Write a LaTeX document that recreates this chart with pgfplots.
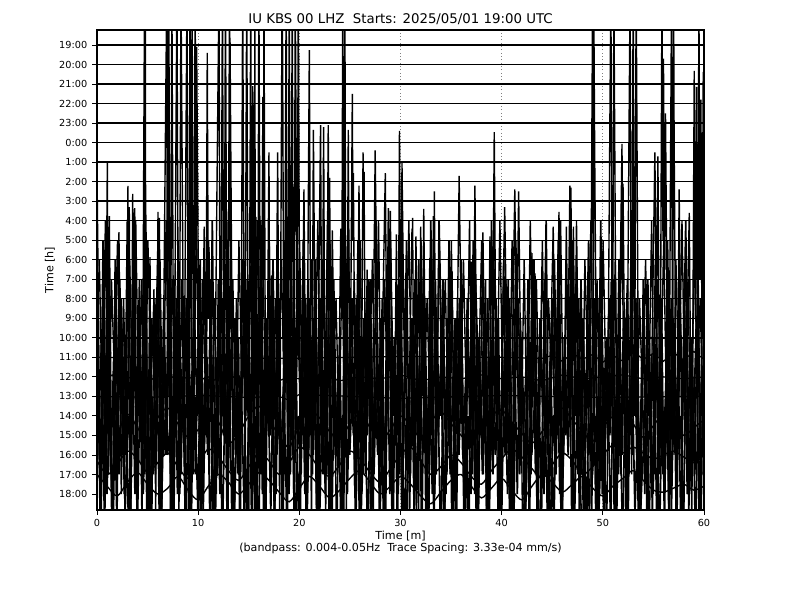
\documentclass[border=0pt]{standalone}
\usepackage{fontspec}
\setmainfont{DejaVu Sans}
\usepackage{pgfplots}
\pgfplotsset{compat=1.18}
\begin{document}
\begin{tikzpicture}
\useasboundingbox (0,0) rectangle (576pt,432pt);
\begin{axis}[
  at={(69.84pt,64.8pt)}, anchor=south west,
  width=437pt, height=345.6pt, scale only axis,
  xmin=0, xmax=60, ymin=-23.82, ymax=0.77,
  xtick={0,10,...,60},
  ytick={-23,-22,...,0},
  yticklabels={18:00,17:00,16:00,15:00,14:00,13:00,12:00,11:00,10:00,9:00,8:00,7:00,6:00,5:00,4:00,3:00,2:00,1:00,0:00,23:00,22:00,21:00,20:00,19:00},
  tick align=outside, tick pos=left,
  major tick length=3.5pt,
  tick style={black, line width=0.6pt},
  axis line style={line width=0.8pt},
  ticklabel style={font=\fontsize{7}{8}\selectfont},
  /pgf/number format/assume math mode=true,
  xmajorgrids, grid style={gray, dotted, line width=0.5pt},
]
% quiet traces 19:00 .. 10:00
\addplot[black, line width=1pt] coordinates {(0,0) (60,0)};
\addplot[black, line width=1pt] coordinates {(0,-1) (60,-1)};
\addplot[black, line width=1pt] coordinates {(0,-2) (60,-2)};
\addplot[black, line width=1pt] coordinates {(0,-3) (60,-3)};
\addplot[black, line width=1pt] coordinates {(0,-4) (60,-4)};
\addplot[black, line width=1pt] coordinates {(0,-5) (60,-5)};
\addplot[black, line width=1pt] coordinates {(0,-6) (60,-6)};
\addplot[black, line width=1pt] coordinates {(0,-7) (60,-7)};
\addplot[black, line width=1pt] coordinates {(0,-8) (60,-8)};
\addplot[black, line width=1pt] coordinates {(0,-9) (60,-9)};
\addplot[black, line width=1pt] coordinates {(0,-10) (60,-10)};
\addplot[black, line width=1pt] coordinates {(0,-11) (60,-11)};
\addplot[black, line width=1pt] coordinates {(0,-12) (60,-12)};
\addplot[black, line width=1pt] coordinates {(0,-13) (60,-13)};
\addplot[black, line width=1pt] coordinates {(0,-14) (60,-14)};
\addplot[black, line width=1pt] coordinates {(0,-15) (60,-15)};
% 11:00
\addplot[black, line width=0.9pt] coordinates {(0,-16) (20,-16.05) (30,-15.95) (40,-16) (44,-16.05) (45,-15.9) (46,-16.2) (47,-15.8) (48,-16.1) (49,-15.85) (50,-16.25) (51,-15.9) (52,-16.2) (53,-15.7) (54,-16.1) (55,-15.8) (56,-16.2) (57,-15.75) (58,-16.15) (59,-15.7) (60,-16.1)};
% 12:00
\addplot[black, line width=0.9pt] coordinates {(0,-17.0) (0.5,-16.8) (1,-17.1) (1.5,-16.9) (2,-17.2) (2.5,-16.9) (3,-17.0) (3.5,-17.1) (4,-17.2) (4.5,-17.0) (5,-17.3) (5.5,-17.1) (6,-17.0) (6.5,-16.9) (7,-17.1) (7.5,-17.0) (8,-17.2) (8.5,-17.0) (9,-17.1) (9.5,-17.0) (10,-16.9) (10.5,-17.1) (11,-17.0) (11.5,-17.2) (12,-17.0) (12.5,-16.9) (13,-17.1) (13.5,-17.0) (14,-17.2) (14.5,-16.9) (15,-17.0) (16,-17.1) (17,-16.9) (18,-17.2) (19,-17.0) (20,-17.1) (22,-16.9) (24,-17.2) (26,-17.0) (28,-17.1) (30,-16.9) (32,-17.2) (34,-17.0) (36,-17.1) (38,-16.9) (40,-17.1) (42,-17.0) (44,-17.2) (46,-16.9) (48,-17.1) (50,-17.0) (52,-16.9) (54,-17.1) (56,-17.0) (58,-17.1) (60,-17.0)};
% 13:00
\addplot[black, line width=0.9pt] coordinates {(0,-18) (5,-18.05) (10,-17.95) (15,-18.05) (18,-18) (19,-18.2) (20,-17.9) (30,-18.1) (40,-17.95) (50,-18.05) (60,-18)};
% big spikes
\addplot[black, line width=1pt] coordinates {
(0,-6.4) (0.35,-24) (0.55,-14) (0.8,-22) (1.02,-6.05) (1.12,-20) (1.22,-8.76) (1.5,-25) (1.85,-16) (2.0,-24) (2.17,-9.58) (2.4,-23) (2.7,-15) (2.85,-21) (3.06,-7.22) (3.12,-16) (3.19,-8.3) (3.35,-24) (3.53,-7.63) (3.62,-15) (3.73,-8.35) (3.95,-22) (4.2,-14) (4.45,-25) (4.7,3) (4.74,-20) (4.77,3) (4.82,-14) (4.84,-8.7) (5.0,-24) (5.24,-10.86) (5.4,-26) (5.63,-12.5) (5.8,-24) (6.03,-8.55) (6.1,-14) (6.16,-8.86) (6.4,-25) (6.9,3) (6.95,-18) (7.1,3) (7.25,-24) (7.4,3) (7.6,-22) (7.9,3) (8.1,-25) (8.3,3) (8.6,-20) (8.9,3) (9.05,-24) (9.2,3) (9.3,-16) (9.4,3) (9.55,-22) (9.7,3) (9.8,-12) (9.85,-0.1) (10.2,-25) (10.6,-9.3) (10.75,-20) (10.9,-0.4) (11.0,-14) (11.07,-10.35) (11.5,-26) (12.06,3) (12.2,-23) (12.4,3) (12.55,-20) (12.7,3) (12.9,-25) (13.1,3) (13.13,-10) (13.15,0.36) (13.5,-26) (14.0,-15) (14.2,-24) (14.4,3) (14.6,-22) (14.8,3) (15.0,-25) (15.2,3) (15.3,-18) (15.4,-2.1) (15.55,-24) (15.6,3) (15.65,-14) (15.7,-8.8) (15.85,-25) (16.0,3) (16.2,-22) (16.4,-2.66) (16.45,-12) (16.5,3) (16.7,-25) (17.0,-5.5) (17.1,-20) (17.27,-11.8) (17.55,-26) (17.86,-5.5) (18.05,-24) (18.3,3) (18.35,-0.4) (18.5,-22) (18.7,3) (18.85,-25) (19.0,3) (19.15,-20) (19.3,3) (19.45,-24) (19.6,3) (19.7,-7.0) (19.75,-15) (19.84,-6.56) (19.9,3) (20.1,-25) (20.46,-7.4) (20.7,-23) (20.99,-0.26) (21.2,-26) (21.39,-4.35) (21.7,-24) (22.1,-4.1) (22.25,-20) (22.4,-4.2) (22.6,-25) (22.86,-4.1) (22.93,-12) (23.0,-6.8) (23.1,-18) (23.26,-9.5) (23.7,-26) (24.1,-9.4) (24.2,-14) (24.3,3) (24.4,-22) (24.5,3) (24.65,-24) (24.84,-4.35) (25.0,-20) (25.24,-2.5) (25.3,-10) (25.34,-6.56) (25.6,-25) (25.9,-7.2) (26.1,-22) (26.3,-5.5) (26.35,-10) (26.4,-6.5) (26.55,-20) (26.7,-11.5) (27.1,-26) (27.5,-5.4) (27.9,-24) (28.5,-6.56) (28.65,-16) (28.8,-8.35) (28.9,-14) (29.0,-8.5) (29.3,-25) (29.6,-9.7) (29.75,-20) (29.9,-4.4) (30.05,-16) (30.15,-6.05) (30.6,-26) (31.14,-9.4) (31.17,-11) (31.2,-8.86) (31.35,-22) (31.53,-9.8) (31.8,-24) (32.0,-9.3) (32.15,-18) (32.3,-8.4) (32.6,-25) (32.9,-10.9) (33.1,-20) (33.25,-8.76) (33.3,-12) (33.35,-7.5) (33.55,-22) (33.8,-9.0) (34.3,-26) (34.7,-16) (34.9,-22) (35.1,-11.6) (35.4,-24) (35.8,-6.7) (36.3,-26) (36.7,-15) (36.85,-20) (37.0,-11.1) (37.2,-18) (37.36,-7.2) (37.7,-25) (38.15,-9.6) (38.5,-24) (38.85,-9.8) (39.05,-20) (39.27,-4.46) (39.45,-18) (39.7,-26) (40.3,-8.3) (40.8,-25) (41.3,-7.4) (41.5,-16) (41.68,-7.5) (42.1,-26) (42.5,-17) (42.7,-24) (43.0,-10.66) (43.15,-18) (43.3,-11.7) (43.7,-26) (44.2,-16) (44.5,-24) (45.1,-9.3) (45.35,-20) (45.67,-8.55) (46.0,-25) (46.4,-9.3) (46.55,-16) (46.75,-7.2) (46.8,-12) (46.85,-7.3) (47.0,-20) (47.1,-9.3) (47.25,-18) (47.4,-9.0) (47.8,-26) (48.3,-17) (48.7,-25) (49.0,3) (49.05,-18) (49.1,3) (49.2,-5.6) (49.5,-26) (50.0,-18) (50.4,-25) (50.8,3) (50.95,-20) (51.1,3) (51.13,-0.4) (51.4,-24) (51.9,-5.07) (51.95,-12) (52.0,-7.1) (52.3,-25) (52.7,3) (52.85,-22) (53.0,3) (53.15,-18) (53.3,3) (53.6,-26) (54.2,-18) (54.6,-25) (55.15,-5.5) (55.3,-14) (55.45,-5.7) (55.65,-22) (55.85,3) (55.95,-10) (56.0,-0.7) (56.1,-12) (56.2,-3.5) (56.5,-24) (56.8,3) (56.9,-20) (57.0,3) (57.05,-4.66) (57.3,-24) (57.55,-7.4) (57.9,-26) (58.55,-8.6) (58.8,-25) (59.04,-1.33) (59.15,-14) (59.27,-2.15) (59.4,-18) (59.5,3) (59.6,-12) (59.7,-2.8) (59.8,-15) (59.93,-1.38) (60,-10)};
% dense lower oscillation 1
\addplot[black, line width=1.2pt] coordinates {
(0,-12) (0.3,-24) (0.6,-10) (0.9,-21) (1.2,-14) (1.5,-26) (1.8,-11) (2.1,-19) (2.4,-13) (2.7,-23) (3.0,-9) (3.3,-25) (3.6,-15) (3.9,-20) (4.2,-12) (4.5,-22) (4.8,-10) (5.1,-26) (5.4,-14) (5.7,-18) (6.0,-11) (6.3,-24) (6.6,-13) (6.9,-21) (7.2,-9) (7.5,-25) (7.8,-16) (8.1,-20) (8.4,-12) (8.7,-23) (9.0,-10) (9.3,-26) (9.6,-13) (9.9,-19) (10.2,-11) (10.5,-24) (10.8,-15) (11.1,-22) (11.4,-9) (11.7,-25) (12.0,-12) (12.3,-20) (12.6,-14) (12.9,-26) (13.2,-10) (13.5,-21) (13.8,-13) (14.1,-24) (14.4,-11) (14.7,-19) (15.0,-15) (15.3,-25) (15.6,-12) (15.9,-22) (16.2,-9) (16.5,-26) (16.8,-14) (17.1,-20) (17.4,-11) (17.7,-23) (18.0,-13) (18.3,-25) (18.6,-10) (18.9,-21) (19.2,-15) (19.5,-24) (19.8,-12) (20.1,-19) (20.4,-10) (20.7,-26) (21.0,-13) (21.3,-22) (21.6,-11) (21.9,-25) (22.2,-14) (22.5,-20) (22.8,-9) (23.1,-24) (23.4,-12) (23.7,-21) (24.0,-15) (24.3,-26) (24.6,-11) (24.9,-19) (25.2,-13) (25.5,-23) (25.8,-10) (26.1,-25) (26.4,-14) (26.7,-20) (27.0,-12) (27.3,-24) (27.6,-9) (27.9,-22) (28.2,-13) (28.5,-26) (28.8,-11) (29.1,-19) (29.4,-15) (29.7,-25) (30.0,-12) (30.3,-21) (30.6,-10) (30.9,-24) (31.2,-14) (31.5,-20) (31.8,-11) (32.1,-26) (32.4,-13) (32.7,-22) (33.0,-9) (33.3,-25) (33.6,-15) (33.9,-19) (34.2,-12) (34.5,-23) (34.8,-10) (35.1,-26) (35.4,-14) (35.7,-21) (36.0,-11) (36.3,-24) (36.6,-13) (36.9,-20) (37.2,-10) (37.5,-25) (37.8,-15) (38.1,-22) (38.4,-12) (38.7,-26) (39.0,-9) (39.3,-19) (39.6,-14) (39.9,-24) (40.2,-11) (40.5,-21) (40.8,-13) (41.1,-25) (41.4,-10) (41.7,-20) (42.0,-15) (42.3,-26) (42.6,-12) (42.9,-22) (43.2,-11) (43.5,-24) (43.8,-14) (44.1,-19) (44.4,-9) (44.7,-25) (45.0,-13) (45.3,-21) (45.6,-10) (45.9,-26) (46.2,-15) (46.5,-20) (46.8,-12) (47.1,-23) (47.4,-11) (47.7,-25) (48.0,-14) (48.3,-19) (48.6,-10) (48.9,-24) (49.2,-13) (49.5,-22) (49.8,-9) (50.1,-26) (50.4,-15) (50.7,-20) (51.0,-12) (51.3,-24) (51.6,-11) (51.9,-21) (52.2,-14) (52.5,-25) (52.8,-10) (53.1,-19) (53.4,-13) (53.7,-26) (54.0,-12) (54.3,-22) (54.6,-15) (54.9,-24) (55.2,-11) (55.5,-20) (55.8,-13) (56.1,-25) (56.4,-10) (56.7,-21) (57.0,-14) (57.3,-26) (57.6,-12) (57.9,-19) (58.2,-9) (58.5,-24) (58.8,-15) (59.1,-22) (59.4,-11) (59.7,-25) (60.0,-13)};
% dense lower oscillation 2
\addplot[black, line width=1.2pt] coordinates {
(0.15,-20) (0.45,-15) (0.75,-25) (1.05,-13) (1.35,-22) (1.65,-16) (1.95,-24) (2.25,-12) (2.55,-21) (2.85,-17) (3.15,-26) (3.45,-14) (3.75,-23) (4.05,-16) (4.35,-20) (4.65,-12) (4.95,-25) (5.25,-15) (5.55,-22) (5.85,-13) (6.15,-24) (6.45,-17) (6.75,-21) (7.05,-14) (7.35,-26) (7.65,-12) (7.95,-23) (8.25,-16) (8.55,-20) (8.85,-13) (9.15,-25) (9.45,-15) (9.75,-22) (10.05,-14) (10.35,-24) (10.65,-17) (10.95,-21) (11.25,-12) (11.55,-26) (11.85,-16) (12.15,-23) (12.45,-13) (12.75,-20) (13.05,-15) (13.35,-25) (13.65,-14) (13.95,-22) (14.25,-17) (14.55,-24) (14.85,-12) (15.15,-21) (15.45,-16) (15.75,-26) (16.05,-13) (16.35,-23) (16.65,-15) (16.95,-20) (17.25,-14) (17.55,-25) (17.85,-12) (18.15,-22) (18.45,-17) (18.75,-24) (19.05,-13) (19.35,-21) (19.65,-15) (19.95,-26) (20.25,-14) (20.55,-23) (20.85,-12) (21.15,-20) (21.45,-16) (21.75,-25) (22.05,-13) (22.35,-22) (22.65,-15) (22.95,-24) (23.25,-12) (23.55,-21) (23.85,-17) (24.15,-26) (24.45,-14) (24.75,-23) (25.05,-16) (25.35,-20) (25.65,-13) (25.95,-25) (26.25,-15) (26.55,-22) (26.85,-12) (27.15,-24) (27.45,-17) (27.75,-21) (28.05,-14) (28.35,-26) (28.65,-13) (28.95,-23) (29.25,-16) (29.55,-20) (29.85,-12) (30.15,-25) (30.45,-15) (30.75,-22) (31.05,-14) (31.35,-24) (31.65,-16) (31.95,-21) (32.25,-13) (32.55,-26) (32.85,-17) (33.15,-23) (33.45,-12) (33.75,-20) (34.05,-15) (34.35,-25) (34.65,-14) (34.95,-22) (35.25,-16) (35.55,-24) (35.85,-13) (36.15,-21) (36.45,-17) (36.75,-26) (37.05,-12) (37.35,-23) (37.65,-15) (37.95,-20) (38.25,-14) (38.55,-25) (38.85,-16) (39.15,-22) (39.45,-13) (39.75,-24) (40.05,-17) (40.35,-21) (40.65,-12) (40.95,-26) (41.25,-15) (41.55,-23) (41.85,-14) (42.15,-20) (42.45,-16) (42.75,-25) (43.05,-13) (43.35,-22) (43.65,-17) (43.95,-24) (44.25,-12) (44.55,-21) (44.85,-15) (45.15,-26) (45.45,-14) (45.75,-23) (46.05,-16) (46.35,-20) (46.65,-13) (46.95,-25) (47.25,-15) (47.55,-22) (47.85,-12) (48.15,-24) (48.45,-17) (48.75,-21) (49.05,-14) (49.35,-26) (49.65,-13) (49.95,-23) (50.25,-16) (50.55,-20) (50.85,-12) (51.15,-25) (51.45,-15) (51.75,-22) (52.05,-14) (52.35,-24) (52.65,-17) (52.95,-21) (53.25,-13) (53.55,-26) (53.85,-16) (54.15,-23) (54.45,-12) (54.75,-20) (55.05,-15) (55.35,-25) (55.65,-14) (55.95,-22) (56.25,-17) (56.55,-24) (56.85,-13) (57.15,-21) (57.45,-16) (57.75,-26) (58.05,-12) (58.35,-23) (58.65,-15) (58.95,-20) (59.25,-14) (59.55,-25) (59.85,-13)};
% dense lower oscillation 3
\addplot[black, line width=1.2pt] coordinates {
(0.08,-17) (0.38,-25) (0.68,-15) (0.98,-23) (1.28,-18) (1.58,-26) (1.88,-14) (2.18,-22) (2.48,-16) (2.78,-24) (3.08,-19) (3.38,-21) (3.68,-13) (3.98,-25) (4.28,-17) (4.58,-23) (4.88,-15) (5.18,-26) (5.48,-18) (5.78,-22) (6.08,-14) (6.38,-24) (6.68,-16) (6.98,-21) (7.28,-19) (7.58,-25) (7.88,-13) (8.18,-23) (8.48,-17) (8.78,-26) (9.08,-15) (9.38,-22) (9.68,-18) (9.98,-24) (10.28,-14) (10.58,-21) (10.88,-16) (11.18,-25) (11.48,-19) (11.78,-23) (12.08,-13) (12.38,-26) (12.68,-17) (12.98,-22) (13.28,-15) (13.58,-24) (13.88,-18) (14.18,-21) (14.48,-14) (14.78,-25) (15.08,-16) (15.38,-23) (15.68,-19) (15.98,-26) (16.28,-13) (16.58,-22) (16.88,-17) (17.18,-24) (17.48,-15) (17.78,-21) (18.08,-18) (18.38,-25) (18.68,-14) (18.98,-23) (19.28,-16) (19.58,-26) (19.88,-19) (20.18,-22) (20.48,-13) (20.78,-24) (21.08,-17) (21.38,-21) (21.68,-15) (21.98,-25) (22.28,-18) (22.58,-23) (22.88,-14) (23.18,-26) (23.48,-16) (23.78,-22) (24.08,-19) (24.38,-24) (24.68,-13) (24.98,-21) (25.28,-17) (25.58,-25) (25.88,-15) (26.18,-23) (26.48,-18) (26.78,-26) (27.08,-14) (27.38,-22) (27.68,-16) (27.98,-24) (28.28,-19) (28.58,-21) (28.88,-13) (29.18,-25) (29.48,-17) (29.78,-23) (30.08,-15) (30.38,-26) (30.68,-18) (30.98,-22) (31.28,-14) (31.58,-24) (31.88,-16) (32.18,-21) (32.48,-19) (32.78,-25) (33.08,-13) (33.38,-23) (33.68,-17) (33.98,-26) (34.28,-15) (34.58,-22) (34.88,-18) (35.18,-24) (35.48,-14) (35.78,-21) (36.08,-16) (36.38,-25) (36.68,-19) (36.98,-23) (37.28,-13) (37.58,-26) (37.88,-17) (38.18,-22) (38.48,-15) (38.78,-24) (39.08,-18) (39.38,-21) (39.68,-14) (39.98,-25) (40.28,-16) (40.58,-23) (40.88,-19) (41.18,-26) (41.48,-13) (41.78,-22) (42.08,-17) (42.38,-24) (42.68,-15) (42.98,-21) (43.28,-18) (43.58,-25) (43.88,-14) (44.18,-23) (44.48,-16) (44.78,-26) (45.08,-19) (45.38,-22) (45.68,-13) (45.98,-24) (46.28,-17) (46.58,-21) (46.88,-15) (47.18,-25) (47.48,-18) (47.78,-23) (48.08,-14) (48.38,-26) (48.68,-16) (48.98,-22) (49.28,-19) (49.58,-24) (49.88,-13) (50.18,-21) (50.48,-17) (50.78,-25) (51.08,-15) (51.38,-23) (51.68,-18) (51.98,-26) (52.28,-14) (52.58,-22) (52.88,-16) (53.18,-24) (53.48,-19) (53.78,-21) (54.08,-13) (54.38,-25) (54.68,-17) (54.98,-23) (55.28,-15) (55.58,-26) (55.88,-18) (56.18,-22) (56.48,-14) (56.78,-24) (57.08,-16) (57.38,-21) (57.68,-19) (57.98,-25) (58.28,-13) (58.58,-23) (58.88,-17) (59.18,-26) (59.48,-15) (59.78,-22)};
% mid oscillation 4
\addplot[black, line width=1pt] coordinates {
(0.23,-11) (0.53,-19) (0.83,-9) (1.13,-22) (1.43,-12) (1.73,-17) (2.03,-10) (2.33,-20) (2.63,-13) (2.93,-21) (3.23,-11) (3.53,-18) (3.83,-9) (4.13,-19) (4.43,-12) (4.73,-22) (5.03,-10) (5.33,-17) (5.63,-13) (5.93,-20) (6.23,-11) (6.53,-21) (6.83,-9) (7.13,-18) (7.43,-12) (7.73,-19) (8.03,-10) (8.33,-22) (8.63,-13) (8.93,-17) (9.23,-11) (9.53,-20) (9.83,-9) (10.13,-21) (10.43,-12) (10.73,-18) (11.03,-10) (11.33,-19) (11.63,-13) (11.93,-22) (12.23,-11) (12.53,-17) (12.83,-9) (13.13,-20) (13.43,-12) (13.73,-21) (14.03,-10) (14.33,-18) (14.63,-13) (14.93,-19) (15.23,-11) (15.53,-22) (15.83,-9) (16.13,-17) (16.43,-12) (16.73,-20) (17.03,-10) (17.33,-21) (17.63,-13) (17.93,-18) (18.23,-11) (18.53,-19) (18.83,-9) (19.13,-22) (19.43,-12) (19.73,-17) (20.03,-10) (20.33,-20) (20.63,-13) (20.93,-21) (21.23,-11) (21.53,-18) (21.83,-9) (22.13,-19) (22.43,-12) (22.73,-22) (23.03,-10) (23.33,-17) (23.63,-13) (23.93,-20) (24.23,-11) (24.53,-21) (24.83,-9) (25.13,-18) (25.43,-12) (25.73,-19) (26.03,-10) (26.33,-22) (26.63,-13) (26.93,-17) (27.23,-11) (27.53,-20) (27.83,-9) (28.13,-21) (28.43,-12) (28.73,-18) (29.03,-10) (29.33,-19) (29.63,-13) (29.93,-22) (30.23,-11) (30.53,-17) (30.83,-9) (31.13,-20) (31.43,-12) (31.73,-21) (32.03,-10) (32.33,-18) (32.63,-13) (32.93,-19) (33.23,-11) (33.53,-22) (33.83,-9) (34.13,-17) (34.43,-12) (34.73,-20) (35.03,-10) (35.33,-21) (35.63,-13) (35.93,-18) (36.23,-11) (36.53,-19) (36.83,-9) (37.13,-22) (37.43,-12) (37.73,-17) (38.03,-10) (38.33,-20) (38.63,-13) (38.93,-21) (39.23,-11) (39.53,-18) (39.83,-9) (40.13,-19) (40.43,-12) (40.73,-22) (41.03,-10) (41.33,-17) (41.63,-13) (41.93,-20) (42.23,-11) (42.53,-21) (42.83,-9) (43.13,-18) (43.43,-12) (43.73,-19) (44.03,-10) (44.33,-22) (44.63,-13) (44.93,-17) (45.23,-11) (45.53,-20) (45.83,-9) (46.13,-21) (46.43,-12) (46.73,-18) (47.03,-10) (47.33,-19) (47.63,-13) (47.93,-22) (48.23,-11) (48.53,-17) (48.83,-9) (49.13,-20) (49.43,-12) (49.73,-21) (50.03,-10) (50.33,-18) (50.63,-13) (50.93,-19) (51.23,-11) (51.53,-22) (51.83,-9) (52.13,-17) (52.43,-12) (52.73,-20) (53.03,-10) (53.33,-21) (53.63,-13) (53.93,-18) (54.23,-11) (54.53,-19) (54.83,-9) (55.13,-22) (55.43,-12) (55.73,-17) (56.03,-10) (56.33,-20) (56.63,-13) (56.93,-21) (57.23,-11) (57.53,-18) (57.83,-9) (58.13,-19) (58.43,-12) (58.73,-22) (59.03,-10) (59.33,-17) (59.63,-13) (59.93,-20)};
% low-frequency wander lines
\addplot[black, line width=1pt, smooth, tension=0.5] coordinates {
(0,-20.5) (1,-19.2) (2,-19.8) (3,-18.9) (4,-19.6) (5,-20.3) (6,-19.1) (7,-18.6) (8,-19.4) (9,-20.1) (10,-19.7) (11,-18.8) (12,-19.3) (13,-20.4) (14,-19.9) (15,-19.0) (16,-18.5) (17,-19.2) (18,-20.0) (19,-20.6) (20,-19.5) (21,-18.7) (22,-19.1) (23,-19.8) (24,-20.2) (25,-19.4) (26,-18.9) (27,-19.6) (28,-20.3) (29,-19.7) (30,-19.0) (31,-19.5) (32,-20.1) (33,-19.3) (34,-18.8) (35,-19.4) (36,-20.0) (37,-20.5) (38,-19.6) (39,-19.0) (40,-18.7) (41,-19.3) (42,-19.9) (43,-20.4) (44,-19.8) (45,-19.1) (46,-18.6) (47,-19.2) (48,-19.8) (49,-20.3) (50,-19.6) (51,-19.0) (52,-18.7) (53,-19.4) (54,-20.1) (55,-19.5) (56,-18.9) (57,-19.3) (58,-20.0) (59,-19.6) (60,-19.2)};
\addplot[black, line width=1pt, smooth, tension=0.5] coordinates {
(0,-21.3) (1,-22.0) (2,-21.5) (3,-20.8) (4,-21.2) (5,-21.9) (6,-21.4) (7,-20.9) (8,-21.6) (9,-22.2) (10,-21.5) (11,-20.7) (12,-21.1) (13,-21.8) (14,-22.3) (15,-21.6) (16,-20.9) (17,-21.3) (18,-22.0) (19,-21.4) (20,-20.6) (21,-21.0) (22,-21.7) (23,-22.1) (24,-21.5) (25,-20.8) (26,-21.2) (27,-21.9) (28,-22.4) (29,-21.7) (30,-21.0) (31,-20.6) (32,-21.3) (33,-22.0) (34,-21.6) (35,-21.0) (36,-21.4) (37,-22.1) (38,-22.5) (39,-21.8) (40,-21.2) (41,-20.7) (42,-21.1) (43,-21.7) (44,-22.2) (45,-21.5) (46,-20.9) (47,-21.3) (48,-22.0) (49,-21.6) (50,-21.0) (51,-20.5) (52,-20.9) (53,-20.6) (54,-20.9) (55,-21.2) (56,-21.0) (57,-20.8) (58,-21.1) (59,-21.4) (60,-21.0)};
\addplot[black, line width=1pt, smooth, tension=0.5] coordinates {
(0,-22.0) (1,-22.6) (2,-23.1) (3,-22.4) (4,-21.9) (5,-22.5) (6,-23.0) (7,-22.7) (8,-22.1) (9,-22.8) (10,-23.3) (11,-22.6) (12,-22.0) (13,-22.4) (14,-23.0) (15,-22.5) (16,-21.9) (17,-22.3) (18,-22.9) (19,-23.4) (20,-22.7) (21,-22.1) (22,-22.6) (23,-23.2) (24,-22.8) (25,-22.2) (26,-21.8) (27,-22.4) (28,-23.0) (29,-22.6) (30,-22.1) (31,-22.5) (32,-23.1) (33,-23.5) (34,-22.9) (35,-22.3) (36,-22.0) (37,-22.6) (38,-23.2) (39,-22.7) (40,-22.2) (41,-22.8) (42,-23.3) (43,-22.6) (44,-22.0) (45,-22.4) (46,-22.9) (47,-22.5) (48,-22.1) (49,-22.7) (50,-23.1) (51,-22.6) (52,-22.2) (53,-21.8) (54,-22.3) (55,-22.8) (56,-22.9) (57,-22.7) (58,-22.5) (59,-22.8) (60,-22.6)};
\end{axis}
\node[font=\fontsize{9.6}{12}\selectfont] at (288.4pt,418.3pt) {IU KBS 00 LHZ\ \ Starts: 2025/05/01 19:00 UTC};
\node[font=\fontsize{8}{9}\selectfont] at (288.4pt,46.1pt) {Time [m]};
\node[font=\fontsize{8}{9}\selectfont] at (288.4pt,37.4pt) {(bandpass: 0.004-0.05Hz\ \ Trace Spacing: 3.33e-04 mm/s)};
\node[font=\fontsize{8}{9}\selectfont, rotate=90] at (36pt,237.6pt) {Time [h]};
\end{tikzpicture}
\end{document}
